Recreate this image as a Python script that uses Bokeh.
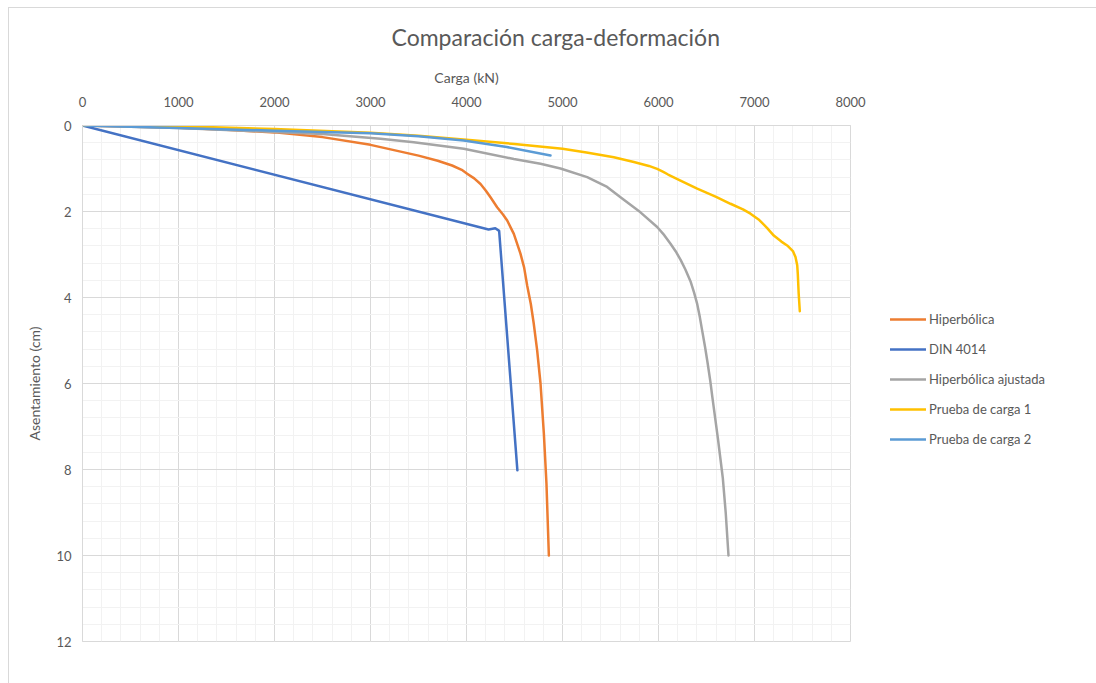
from bokeh.plotting import figure
from bokeh.models import (Range1d, SingleIntervalTicker, Legend, LegendItem, InlineStyleSheet)
from bokeh.embed import file_html
from bokeh.resources import INLINE

# ---- data ----
carga_hip = [0, 1000, 1500, 2000, 2500, 3000, 3500, 3700, 3850, 3950, 4007, 4080, 4146, 4200, 4250, 4319,
             4380, 4424, 4493, 4562, 4600, 4632, 4670, 4700, 4736, 4771, 4806, 4833, 4858]
asent_hip = [0, 0.05, 0.10, 0.16, 0.27, 0.45, 0.70, 0.82, 0.93, 1.03, 1.12, 1.23, 1.36, 1.51, 1.67, 1.90,
             2.07, 2.21, 2.52, 2.98, 3.30, 3.72, 4.15, 4.60, 5.23, 6.00, 7.17, 8.33, 10.0]

carga_din = [0, 4230, 4300, 4340, 4530]
asent_din = [0, 2.42, 2.39, 2.45, 8.02]

carga_aju = [0, 1000, 2000, 2500, 3104, 3451, 3972, 4493, 4771, 4979, 5257, 5465, 5604, 5812, 5986,
             6060, 6125, 6180, 6229, 6280, 6333, 6370, 6403, 6430, 6455, 6485, 6510, 6540, 6560,
             6590, 6620, 6645, 6670, 6700, 6729]
asent_aju = [0, 0.06, 0.15, 0.20, 0.31, 0.39, 0.54, 0.78, 0.89, 1.00, 1.20, 1.43, 1.67, 2.02, 2.36,
             2.55, 2.75, 2.93, 3.12, 3.35, 3.62, 3.88, 4.15, 4.45, 4.77, 5.15, 5.50, 5.95, 6.30,
             6.80, 7.30, 7.75, 8.20, 9.00, 10.0]

carga_p1 = [0, 1000, 2000, 3000, 3500, 4000, 4500, 5000, 5250, 5535, 5743, 5900, 5986, 6050, 6100, 6229,
            6403, 6600, 6750, 6880, 6958, 7050, 7130, 7201, 7280, 7340, 7400, 7427, 7445, 7451, 7460, 7472]
asent_p1 = [0, 0.02, 0.08, 0.17, 0.24, 0.33, 0.43, 0.54, 0.63, 0.74, 0.85, 0.94, 1.01, 1.08, 1.14, 1.28,
            1.47, 1.66, 1.82, 1.95, 2.05, 2.20, 2.38, 2.56, 2.70, 2.79, 2.92, 3.06, 3.25, 3.45, 3.90, 4.32]

carga_p2 = [0, 1000, 2000, 3000, 3500, 3970, 4420, 4875]
asent_p2 = [0, 0.06, 0.12, 0.18, 0.25, 0.35, 0.50, 0.70]

series_names = ["Hiperbólica", "DIN 4014", "Hiperbólica ajustada", "Prueba de carga 1", "Prueba de carga 2"]
series_colors = ["#ED7D31", "#4472C4", "#A5A5A5", "#FFC000", "#5B9BD5"]

FONT = "Lato"
TXT = "#595959"

border_css = InlineStyleSheet(css="""
:host { position: relative; }
:host::after {
  content: ""; position: absolute; left: 8px; top: 7px; right: 0; bottom: 0;
  border-left: 1.5px solid #D9D9D9; border-top: 1.5px solid #D9D9D9;
  pointer-events: none; z-index: 100;
}
""")

p = figure(width=1096, height=683, output_backend="svg", toolbar_location=None,
           x_axis_location="above",
           x_range=Range1d(0, 8000), y_range=Range1d(12, 0),
           min_border_left=82, min_border_right=246, min_border_top=125, min_border_bottom=42,
           frame_width=768, frame_height=516)
p.stylesheets = [border_css]

p.title.text = "Comparación carga-deformación"
p.title.align = "left"
p.title.offset = 309
p.title.standoff = 29
p.title.text_font = FONT
p.title.text_font_size = "23px"
p.title.text_font_style = "normal"
p.title.text_color = TXT

p.outline_line_color = "#D9D9D9"
p.background_fill_color = "white"

p.xaxis.ticker = SingleIntervalTicker(interval=1000, num_minor_ticks=5)
p.yaxis.ticker = SingleIntervalTicker(interval=2, num_minor_ticks=5)

p.xaxis.axis_label = "Carga (kN)"
p.yaxis.axis_label = "Asentamiento (cm)"
for ax in (p.xaxis[0], p.yaxis[0]):
    ax.axis_label_text_font = FONT
    ax.axis_label_text_font_style = "normal"
    ax.axis_label_text_font_size = "14px"
    ax.axis_label_text_color = TXT
    ax.major_label_text_font = FONT
    ax.major_label_text_font_size = "13px"
    ax.major_label_text_color = TXT
    ax.major_tick_line_color = None
    ax.minor_tick_line_color = None
    ax.axis_line_color = "#D9D9D9"
p.xaxis[0].major_label_standoff = 13
p.xaxis[0].axis_label_standoff = 8
p.yaxis[0].axis_label_standoff = 10

p.xgrid.grid_line_color = "#D9D9D9"
p.ygrid.grid_line_color = "#D9D9D9"
p.xgrid.minor_grid_line_color = "#F2F2F2"
p.ygrid.minor_grid_line_color = "#F2F2F2"

renderers = []
for xs, ys, c in [(carga_hip, asent_hip, series_colors[0]),
                  (carga_din, asent_din, series_colors[1]),
                  (carga_aju, asent_aju, series_colors[2]),
                  (carga_p1, asent_p1, series_colors[3]),
                  (carga_p2, asent_p2, series_colors[4])]:
    r = p.line(xs, ys, line_color=c, line_width=2.5, line_join="round", line_cap="round")
    renderers.append(r)

legend = Legend(items=[LegendItem(label=n, renderers=[r]) for n, r in zip(series_names, renderers)],
                location=(40, 192))
legend.label_text_font = FONT
legend.label_text_font_size = "13px"
legend.label_text_color = TXT
legend.glyph_width = 36
legend.label_standoff = 3
legend.spacing = 10
legend.label_height = 20
legend.glyph_height = 20
legend.margin = 0
legend.padding = 0
legend.border_line_color = None
legend.background_fill_alpha = 0
p.add_layout(legend, "right")

open("out.html", "w").write(file_html(p, INLINE))
